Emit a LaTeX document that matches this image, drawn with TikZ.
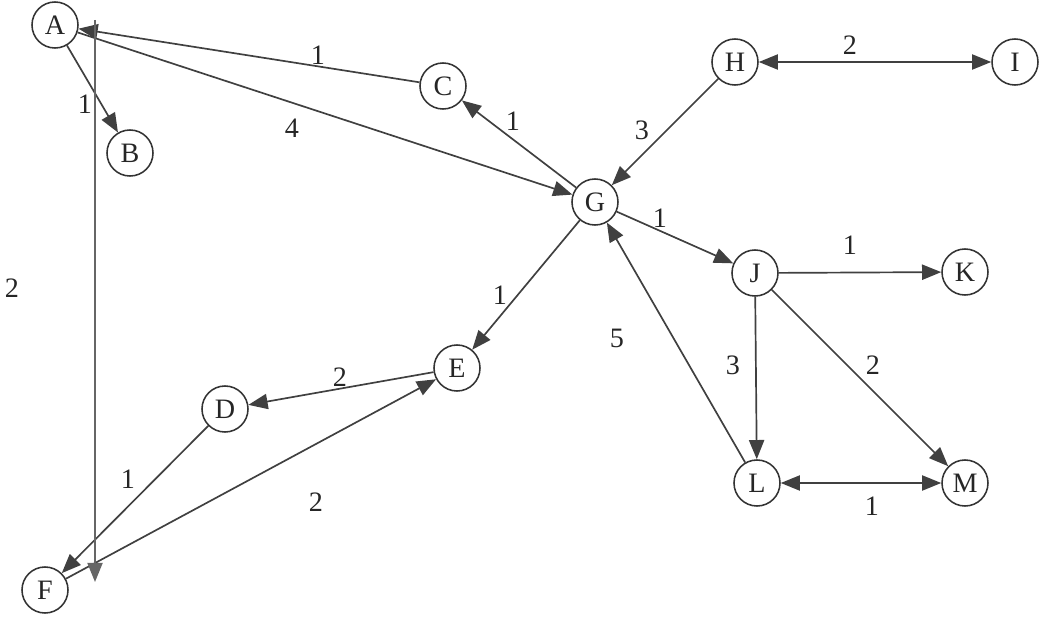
\documentclass[tikz,border=0pt]{standalone}
\usepackage{fontspec}
\setmainfont{Liberation Serif}
\usetikzlibrary{arrows.meta}

\begin{document}
\begin{tikzpicture}[x=0.025cm, y=-0.025cm,
        vertex/.style={circle, draw=black!80, line width=1.1pt, minimum size=1.15cm, inner sep=0pt, text=black!85, font=\fontsize{20}{24}\selectfont},
        wt/.style={inner sep=1pt, text=black!85, font=\fontsize{20}{24}\selectfont},
        edge/.style={draw=black!75, line width=1.2pt, -{Triangle[length=0.48cm, width=0.38cm]}},
        both/.style={edge, {Triangle[length=0.48cm, width=0.38cm]}-{Triangle[length=0.48cm, width=0.38cm]}}]
    \useasboundingbox (0,0) rectangle (1041,624);
    % vertices
    \node[vertex] (A) at (55,25) {A};
    \node[vertex] (B) at (130,153) {B};
    \node[vertex] (C) at (443,86) {C};
    \node[vertex] (H) at (735,62) {H};
    \node[vertex] (I) at (1015,62) {I};
    \node[vertex] (G) at (595,202) {G};
    \node[vertex] (J) at (755,273) {J};
    \node[vertex] (K) at (965,272) {K};
    \node[vertex] (E) at (457,368) {E};
    \node[vertex] (D) at (225,409) {D};
    \node[vertex] (L) at (757,483) {L};
    \node[vertex] (M) at (965,483) {M};
    \node[vertex] (F) at (45,590) {F};
    \coordinate (afTop) at (95,20);
    \coordinate (afBot) at (95,582);
    % edges
    \draw[edge] (C) -- (A);
    \draw[edge] (A) -- (G);
    \draw[edge] (A) -- (B);
    \draw[edge] (G) -- (C);
    \draw[edge] (H) -- (G);
    \draw[both] (H) -- (I);
    \draw[edge] (G) -- (J);
    \draw[edge] (J) -- (K);
    \draw[edge] (J) -- (L);
    \draw[edge] (J) -- (M);
    \draw[both] (L) -- (M);
    \draw[edge] (L) -- (G);
    \draw[edge] (G) -- (E);
    \draw[edge] (E) -- (D);
    \draw[edge] (D) -- (F);
    \draw[edge] (F) -- (E);
    \draw[edge, draw=black!60] (afTop) -- (afBot);
    % weights
    \node[wt] (wCA) at (318,55) {1};
    \node[wt] (wAG) at (292,128) {4};
    \node[wt] (wAB) at (85,104) {1};
    \node[wt] (wGC) at (513,121) {1};
    \node[wt] (wHG) at (642,130) {3};
    \node[wt] (wHI) at (850,45) {2};
    \node[wt] (wGJ) at (660,218) {1};
    \node[wt] (wJK) at (850,245) {1};
    \node[wt] (wJL) at (733,365) {3};
    \node[wt] (wJM) at (873,365) {2};
    \node[wt] (wLM) at (872,506) {1};
    \node[wt] (wLG) at (617,338) {5};
    \node[wt] (wGE) at (500,295) {1};
    \node[wt] (wED) at (340,377) {2};
    \node[wt] (wDF) at (128,479) {1};
    \node[wt] (wFE) at (316,502) {2};
    \node[wt] (wAF) at (12,288) {2};
\end{tikzpicture}
\end{document}
